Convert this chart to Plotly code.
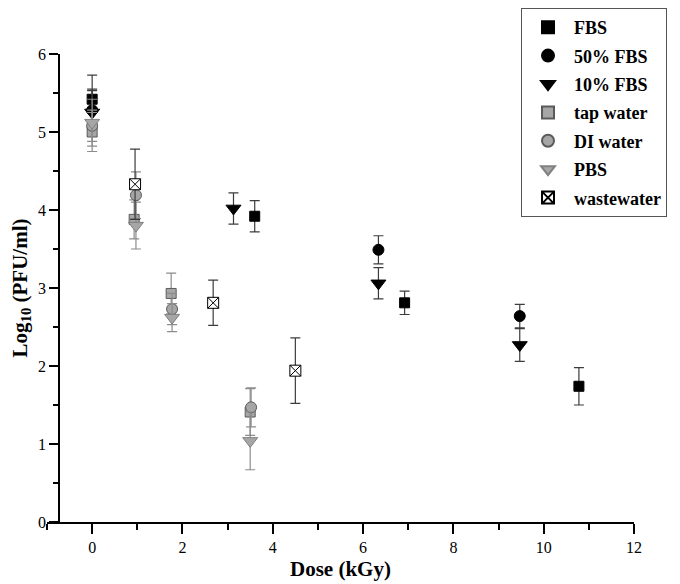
import plotly.graph_objects as go

# ---- data ----
fbs_x = [0, 3.6, 6.92, 10.78]
fbs_y = [5.42, 3.92, 2.81, 1.74]
fbs_e = [0.31, 0.2, 0.15, 0.24]

fbs50_x = [0, 6.34, 9.47]
fbs50_y = [5.28, 3.49, 2.64]
fbs50_e = [0.25, 0.18, 0.15]

fbs10_x = [0, 3.13, 6.34, 9.47]
fbs10_y = [5.25, 4.02, 3.06, 2.27]
fbs10_e = [0.3, 0.2, 0.2, 0.21]

tap_x = [0, 0.93, 1.75, 3.5]
tap_y = [5.0, 3.88, 2.93, 1.41]
tap_e = [0.25, 0.25, 0.26, 0.3]

di_x = [0, 0.97, 1.77, 3.52]
di_y = [5.08, 4.19, 2.73, 1.47]
di_e = [0.2, 0.3, 0.2, 0.25]

pbs_x = [0, 0.97, 1.77, 3.5]
pbs_y = [5.12, 3.8, 2.62, 1.04]
pbs_e = [0.3, 0.3, 0.18, 0.37]

ww_x = [0.95, 2.68, 4.5]
ww_y = [4.33, 2.81, 1.94]
ww_e = [0.45, 0.29, 0.42]

series_names = ["FBS", "50% FBS", "10% FBS", "tap water", "DI water", "PBS", "wastewater"]

FONT = "Liberation Serif"
BLACK = "#000000"
GRAY = "#a6a6a6"
GRAY_LINE = "#5a5a5a"
ERR_DARK = "#3c3c3c"
ERR_GRAY = "#8c8c8c"

specs = [
    (fbs_x, fbs_y, fbs_e, "square", BLACK, BLACK, 10, ERR_DARK),
    (fbs50_x, fbs50_y, fbs50_e, "circle", BLACK, BLACK, 11, ERR_DARK),
    (fbs10_x, fbs10_y, fbs10_e, "triangle-down", BLACK, BLACK, 13, ERR_DARK),
    (tap_x, tap_y, tap_e, "square", GRAY, GRAY_LINE, 10, ERR_GRAY),
    (di_x, di_y, di_e, "circle", GRAY, GRAY_LINE, 11, ERR_GRAY),
    (pbs_x, pbs_y, pbs_e, "triangle-down", GRAY, "#808080", 13, ERR_GRAY),
    (ww_x, ww_y, ww_e, "square-x", "#ffffff", BLACK, 11, ERR_DARK),
]

fig = go.Figure()
for i, (xs, ys, es, sym, fill, line, size, ecol) in enumerate(specs):
    fig.add_trace(go.Scatter(
        x=xs, y=ys, mode="markers", name=series_names[i],
        legendgroup=str(i),
        marker=dict(symbol=sym, color=fill, size=size,
                    line=dict(color=line, width=1)),
        error_y=dict(type="data", array=es, visible=True,
                     color=ecol, thickness=1.2, width=5),
    ))

# page body has an 8px margin, so the figure is sized/positioned to compensate
fig.update_layout(
    width=672, height=576,
    margin=dict(l=39, r=46, t=46, b=62, autoexpand=False),
    plot_bgcolor="white", paper_bgcolor="white",
    font=dict(family=FONT, color="black"),
    showlegend=True,
    legend=dict(
        xref="container", yref="container",
        x=0.7634, y=1.0, xanchor="left", yanchor="top",
        bordercolor="#555555", borderwidth=1,
        font=dict(family=FONT, size=18, color="black", weight="bold"),
        tracegroupgap=2, itemsizing="constant", itemwidth=42,
        bgcolor="white",
    ),
    xaxis=dict(
        range=[-1, 12], showgrid=False, zeroline=False, automargin=False,
        showline=True, linecolor="black", linewidth=1.5,
        ticks="outside", ticklen=10, tickwidth=1.5, tickcolor="black",
        tickmode="array", tickvals=[0, 2, 4, 6, 8, 10, 12],
        ticktext=["0", "2", "4", "6", "8", "10", "12"],
        minor=dict(tickmode="array", tickvals=[-1, 1, 3, 5, 7, 9, 11],
                   ticks="outside", ticklen=6, tickwidth=1.5, tickcolor="black"),
        tickfont=dict(family=FONT, size=16, color="black"),
        title=dict(text="<b>Dose (kGy)</b>", font=dict(family=FONT, size=21, color="black"),
                   standoff=6),
    ),
    yaxis=dict(
        range=[0, 6], showgrid=False, zeroline=False, automargin=False,
        anchor="free", position=0.0204,
        showline=True, linecolor="black", linewidth=1.5,
        ticks="outside", ticklen=9, tickwidth=1.5, tickcolor="black",
        tickmode="array", tickvals=[0, 1, 2, 3, 4, 5, 6],
        ticktext=["0", "1", "2", "3", "4", "5", "6"],
        minor=dict(tickmode="array", tickvals=[0.5, 1.5, 2.5, 3.5, 4.5, 5.5],
                   ticks="outside", ticklen=5, tickwidth=1.5, tickcolor="black"),
        tickfont=dict(family=FONT, size=16, color="black"),
        title=dict(text="<b>Log<sub>10</sub> (PFU/ml)</b>",
                   font=dict(family=FONT, size=21, color="black"), standoff=8),
    ),
)

fig.write_html("out.html")
